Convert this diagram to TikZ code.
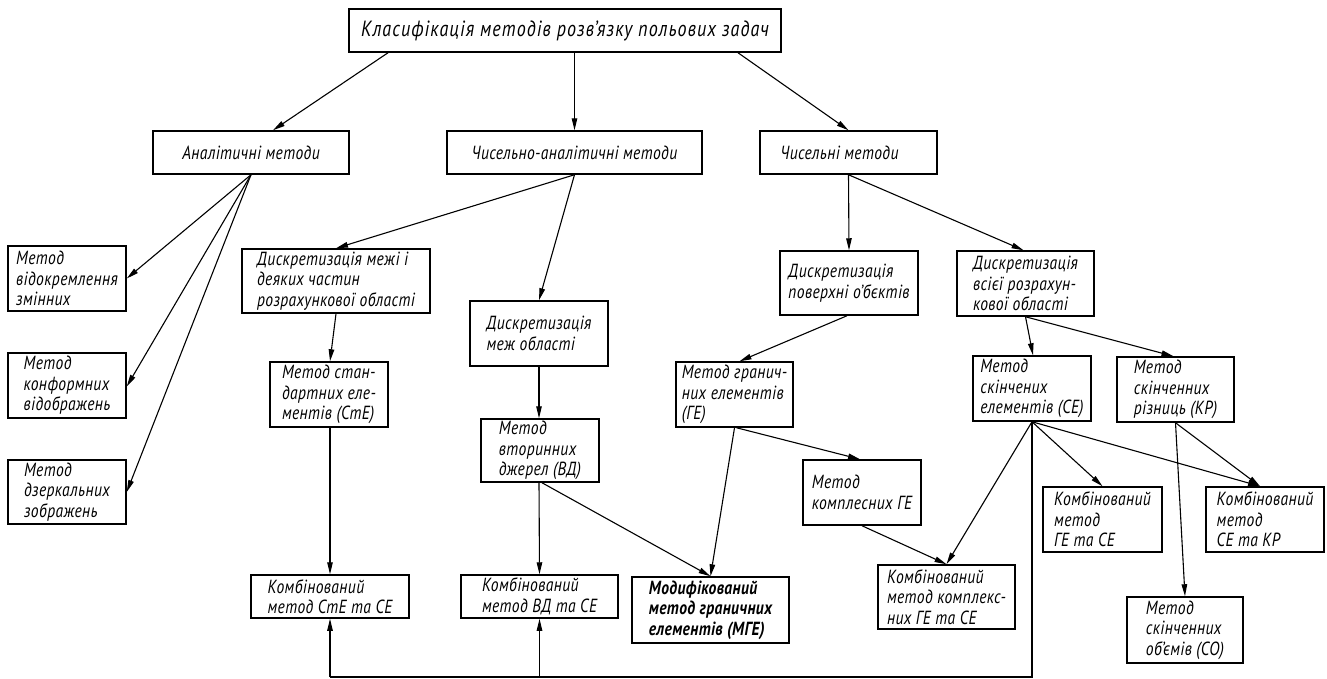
\documentclass[tikz,border=0pt]{standalone}
\usepackage{fontspec}
\setmainfont{PT Sans}
\newfontfamily\gost{PT Sans}[FakeStretch=0.82,LetterSpace=2]
\newfontfamily\gosttop{PT Sans}[FakeStretch=0.82,LetterSpace=5]
\usetikzlibrary{arrows.meta,calc}
\newcommand{\bx}[6]{%
  \node[box,minimum width={#4-#2},minimum height={#5-#3}] (#1) at ({(#2+#4)/2},{(#3+#5)/2}) {#6};}
\begin{document}
\begin{tikzpicture}[x=1pt,y=-1pt,
  box/.style={draw,line width=1.5pt,inner sep=0pt,align=left,
    font=\gost\itshape\fontsize{19}{20.5}\selectfont},
  arr/.style={line width=1.1pt,-{Triangle[length=12pt,width=5.5pt]}},
  ln/.style={line width=1.1pt}]
\fill[white] (0,0) rectangle (1327,678);
\useasboundingbox (0,0) rectangle (1327,678);
% boxes
\node[box,minimum width=432,minimum height=43,
  font=\gosttop\itshape\fontsize{22}{24}\selectfont] (top) at (565,30.5)
  {Класифікація методів розв’язку польових задач};
\bx{an}{153}{131}{349}{174}{Аналітичні методи}
\bx{cha}{447}{131}{702}{174}{Чисельно-аналітичні методи}
\bx{ch}{760}{131}{937}{174}{Чисельні методи\hspace{18pt}}
\bx{vid}{8}{246}{126}{311}{Метод\\відокремлення\\змінних}
\bx{konf}{8}{353}{126}{418}{Метод\\конформних\\відображень}
\bx{dzer}{8}{460}{126}{524}{Метод\\дзеркальних\\зображень}
\bx{dm}{242}{249}{430}{313}{Дискретизація межі і\\деяких частин\\розрахункової області}
\bx{ste}{270}{362}{388}{427}{Метод стан-\\дартних еле-\\ментів (СтЕ)}
\bx{kste}{251}{575}{409}{618}{Комбінований\\метод СтЕ та СЕ}
\bx{dmo}{470}{301}{608}{366}{Дискретизація\\меж області}
\bx{vd}{481}{419}{599}{482}{Метод\\вторинних\\джерел (ВД)}
\bx{kvd}{461}{575}{618}{618}{Комбінований\\метод ВД та СЕ}
\node[box,minimum width=157,minimum height=66,
  font=\gost\bfseries\itshape\fontsize{19}{20.5}\selectfont] (mge) at (710.5,610)
  {Модифікований\\метод граничних\\елементів (МГЕ)};
\bx{dp}{780}{251}{918}{315}{Дискретизація\\поверхні о’бєктів}
\bx{ge}{676}{362}{793}{427}{Метод гранич-\\них елементів\\(ГЕ)}
\bx{kge}{803}{460}{921}{525}{Метод\\комплесних ГЕ}
\bx{kkge}{878}{565}{1015}{629}{Комбінований\\метод комплекс-\\них ГЕ та СЕ}
\bx{dv}{957}{251}{1094}{316}{Дискретизація\\всієї розрахун-\\кової області}
\bx{se}{973}{356}{1091}{421}{Метод\\скінчених\\елементів (СЕ)}
\bx{kr}{1117}{357}{1234}{422}{Метод\\скінченних\\різниць (КР)}
\bx{kgese}{1043}{487}{1162}{552}{Комбінований\\метод\\ГЕ та СЕ}
\bx{kser}{1206}{487}{1324}{552}{Комбінований\\метод\\СЕ та КР}
\bx{so}{1127}{597}{1243}{663}{Метод\\скінченних\\об’ємів (СО)}
% connectors
\draw[arr] ([xshift=-177pt]top.south) -- ([xshift=22pt]an.north);
\draw[arr] ([xshift=9.5pt]top.south) -- (cha.north);
\draw[arr] ([xshift=173pt]top.south) -- (ch.north);
\draw[arr] (an.south) -- (vid.east);
\draw[arr] (an.south) -- ([yshift=-1pt]konf.east);
\draw[arr] (an.south) -- (dzer.east);
\draw[arr] (cha.south) -- (dm.north);
\draw[arr] (cha.south) -- (dmo.north);
\draw[arr] (ch.south) -- (dp.north);
\draw[arr] (ch.south) -- ([xshift=-2pt]dv.north);
\draw[arr] (dm.south) -- ([xshift=1pt]ste.north);
\draw[arr] ([xshift=1pt]ste.south) -- (kste.north);
\draw[arr] (dmo.south) -- ([xshift=-1pt]vd.north);
\draw[arr] ([xshift=-1pt]vd.south) -- (kvd.north);
\draw[arr] ([xshift=2pt]vd.south) -- (mge.north);
\draw[arr] ([xshift=-2pt]dp.south) -- ([xshift=5pt]ge.north);
\draw[arr] (ge.south) -- (mge.north);
\draw[arr] ([xshift=2pt]ge.south) -- ([xshift=-2pt]kge.north);
\draw[arr] (kge.south) -- (kkge.north);
\draw[arr] (dv.south) -- ([xshift=1pt]se.north);
\draw[arr] (dv.south) -- ([xshift=-2pt]kr.north);
\draw[arr] (se.south) -- (kkge.north);
\draw[arr] (se.south) -- (kgese.north);
\draw[arr] (se.south) -- ([xshift=-5pt]kser.north);
\draw[arr] (kr.south) -- ([xshift=-5pt]kser.north);
\draw[arr] (kr.south) -- (so.north);
\coordinate (bl) at (1032,677);
\draw[ln] (se.south) -- (bl) -- (kste.south |- bl);
\draw[arr] (kste.south |- bl) -- (kste.south);
\draw[arr] (kvd.south |- bl) -- (kvd.south);
\end{tikzpicture}
\end{document}
